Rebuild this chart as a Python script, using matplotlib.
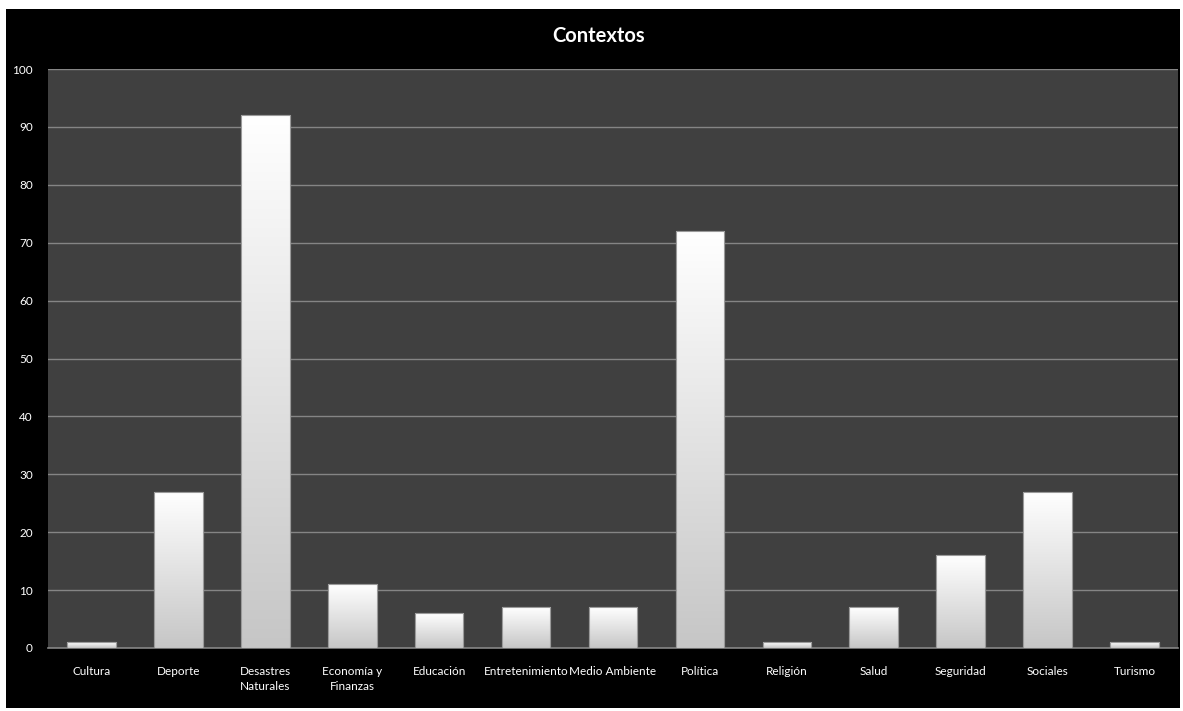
import matplotlib
matplotlib.use("Agg")
import matplotlib.pyplot as plt
import numpy as np
from matplotlib.patches import Rectangle

categories = ["Cultura", "Deporte", "Desastres\nNaturales", "Economía y\nFinanzas", "Educación",
              "Entretenimiento", "Medio Ambiente", "Política", "Religión", "Salud",
              "Seguridad", "Sociales", "Turismo"]
values = [1, 27, 92, 11, 6, 7, 7, 72, 1, 7, 16, 27, 1]
yticks = [0, 10, 20, 30, 40, 50, 60, 70, 80, 90, 100]

plt.rcParams['font.family'] = ['Lato', 'DejaVu Sans']

W, H = 1183, 711
fig = plt.figure(figsize=(W/100, H/100), dpi=100, facecolor='white')
bg = fig.add_axes([6/W, 1 - 708/H, (1180-6)/W, (708-9)/H], zorder=-10)
bg.set_facecolor('black')
bg.set_xticks([]); bg.set_yticks([])
for s in bg.spines.values():
    s.set_visible(False)

ax = fig.add_axes([48/W, 1 - 648/H, (1178-48)/W, (648-69)/H], zorder=1)
ax.set_facecolor('#404040')
x = np.arange(len(categories))
bw = 0.56
bars = ax.bar(x, values, width=bw, color='white', edgecolor='#9a9a9a', linewidth=0.8, zorder=3)
grad = np.linspace(0, 1, 256).reshape(-1, 1)
cmap = matplotlib.colors.LinearSegmentedColormap.from_list('g', ['#c6c6c6', '#ffffff'])
for b in bars:
    x0, w, h = b.get_x(), b.get_width(), b.get_height()
    im = ax.imshow(grad, cmap=cmap, origin='lower', aspect='auto',
                   extent=(x0, x0 + w, 0, h), zorder=3.5)
    im.set_clip_path(b)
    ax.add_patch(Rectangle((x0, 0), w, h, facecolor='none', edgecolor='#9a9a9a', linewidth=0.8, zorder=4))

ax.set_xlim(-0.5, len(categories) - 0.5)
ax.set_ylim(0, 100)
ax.set_yticks(yticks)
ax.set_yticklabels([str(v) for v in yticks], color='white', fontsize=8.5)
ax.set_xticks(x)
ax.set_xticklabels(categories, color='white', fontsize=8.5, linespacing=1.4)
ax.tick_params(axis='y', length=0, pad=11)
ax.tick_params(axis='x', length=0, pad=13)
ax.grid(axis='y', color='#858585', linewidth=1, zorder=1)
ax.set_axisbelow(True)
for s in ['top', 'right', 'left']:
    ax.spines[s].set_visible(False)
ax.spines['bottom'].set_color('#858585')
ax.spines['bottom'].set_linewidth(1.2)

fig.text(599/W, 1 - 36/H, "Contextos", color='white', fontsize=14.5, fontweight='bold',
         ha='center', va='center', zorder=5)

fig.savefig('out.png', dpi=100, facecolor='white')
